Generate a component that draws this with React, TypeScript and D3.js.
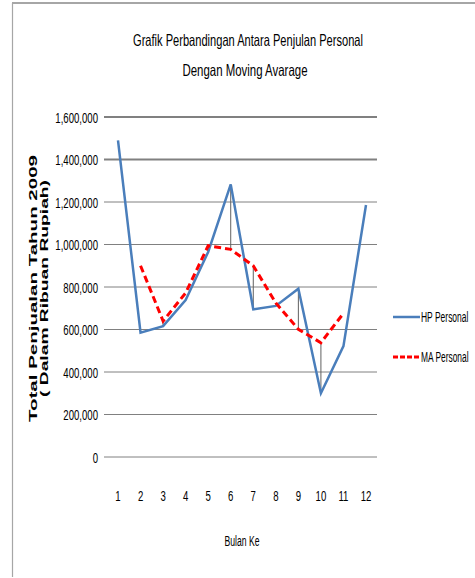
import React from "react";
import * as d3 from "d3";

const months = [1, 2, 3, 4, 5, 6, 7, 8, 9, 10, 11, 12];
const hpPersonal = [1490000, 585000, 616000, 739000, 965000, 1283000, 695000, 711000, 792000, 300000, 522000, 1186000];
const maMonths = [2, 3, 4, 5, 6, 7, 8, 9, 10, 11];
const maPersonal = [900000, 640000, 772000, 994000, 977000, 900000, 725000, 601000, 538000, 676000];
const dropMonths = [3, 5, 6, 7, 8, 9, 10];
const yTicks = [0, 200000, 400000, 600000, 800000, 1000000, 1200000, 1400000, 1600000];
const titleLines = ["Grafik Perbandingan Antara Penjulan Personal", "Dengan Moving Avarage"];
const yTitleLines = ["Total Penjualan Tahun 2009", "( Dalam Ribuan Rupiah)"];
const xTitle = "Bulan Ke";
const legendLabels = ["HP Personal", "MA Personal"];

const FONT = "'Liberation Sans', Arial, sans-serif";
const SX = 0.64;

function Narrow({
  x,
  y,
  anchor = "start",
  size = 15,
  sx = SX,
  children,
}: {
  x: number;
  y: number;
  anchor?: "start" | "middle" | "end";
  size?: number;
  sx?: number;
  children: React.ReactNode;
}) {
  return (
    <g transform={`translate(${x},${y}) scale(${sx},1)`}>
      <text x={0} y={0} textAnchor={anchor} fontFamily={FONT} fontSize={size} fill="#000">
        {children}
      </text>
    </g>
  );
}

function Fit({
  x,
  y,
  len,
  anchor = "start",
  size = 15,
  children,
}: {
  x: number;
  y: number;
  len: number;
  anchor?: "start" | "middle" | "end";
  size?: number;
  children: React.ReactNode;
}) {
  return (
    <text x={x} y={y} textAnchor={anchor} fontFamily={FONT} fontSize={size} fill="#000" textLength={len} lengthAdjust="spacingAndGlyphs">
      {children}
    </text>
  );
}

export default function App() {
  const x = d3.scalePoint<number>().domain(months).range([118, 366]);
  const y = d3.scaleLinear().domain([0, 1600000]).range([457, 117]);
  const fmt = d3.format(",");
  const line = d3
    .line<[number, number]>()
    .x((d) => x(d[0]) as number)
    .y((d) => y(d[1]));
  const hpData: [number, number][] = months.map((m, i) => [m, hpPersonal[i]]);
  const maData: [number, number][] = maMonths.map((m, i) => [m, maPersonal[i]]);
  const blue = "#4a7ebb";
  const red = "#ff0000";

  return (
    <svg
      width={475}
      height={578}
      style={{ position: "absolute", left: 0, top: 0, background: "#fff" }}
    >
      <rect x={0} y={0} width={475} height={578} fill="#fff" />
      {/* frame */}
      <line x1={12.5} y1={3} x2={12.5} y2={577} stroke="#a6a6a6" strokeWidth={1.2} />
      <line x1={12} y1={3} x2={475} y2={3} stroke="#a6a6a6" strokeWidth={1.8} />

      {/* title */}
      <Fit x={248} y={46} len={230} anchor="middle" size={16.5}>
        {titleLines[0]}
      </Fit>
      <Fit x={245} y={76} len={125} anchor="middle" size={16.5}>
        {titleLines[1]}
      </Fit>

      {/* gridlines & y labels */}
      {yTicks.map((v) => (
        <g key={v}>
          <line
            x1={104}
            x2={377}
            y1={y(v)}
            y2={y(v)}
            stroke="#808080"
            strokeWidth={v >= 1400000 ? 1.8 : 1}
          />
          <Narrow x={98} y={y(v) + 5.5} anchor="end">
            {fmt(v)}
          </Narrow>
        </g>
      ))}

      {/* y title */}
      <g transform="translate(37,288.5) rotate(-90)">
        <text x={0} y={0} textAnchor="middle" fontFamily={FONT} fontWeight="bold" fontSize={11} textLength={267} lengthAdjust="spacingAndGlyphs">
          {yTitleLines[0]}
        </text>
      </g>
      <g transform="translate(48,288.5) rotate(-90)">
        <text x={0} y={0} textAnchor="middle" fontFamily={FONT} fontWeight="bold" fontSize={11} textLength={217} lengthAdjust="spacingAndGlyphs">
          {yTitleLines[1]}
        </text>
      </g>

      {/* x labels */}
      {months.map((m) => (
        <Narrow key={m} x={x(m) as number} y={501} anchor="middle">
          {m}
        </Narrow>
      ))}
      <Narrow x={242} y={546} anchor="middle" sx={0.575}>
        {xTitle}
      </Narrow>

      {/* drop lines between series */}
      {dropMonths.map((m) => {
        const hp = hpPersonal[months.indexOf(m)];
        const ma = maPersonal[maMonths.indexOf(m)];
        return (
          <line key={m} x1={x(m)} x2={x(m)} y1={y(hp)} y2={y(ma)} stroke="#606060" strokeWidth={1} />
        );
      })}

      {/* series */}
      <path d={line(hpData) || ""} fill="none" stroke={blue} strokeWidth={2.5} strokeLinejoin="miter" />
      <path d={line(maData) || ""} fill="none" stroke={red} strokeWidth={3} strokeDasharray="7,4" />

      {/* legend */}
      <line x1={393} x2={420} y1={317} y2={317} stroke={blue} strokeWidth={2.5} />
      <Narrow x={421} y={322} sx={0.565}>
        {legendLabels[0]}
      </Narrow>
      <line x1={393} x2={420} y1={357} y2={357} stroke={red} strokeWidth={3} strokeDasharray="5,2" />
      <Narrow x={421} y={362} sx={0.56}>
        {legendLabels[1]}
      </Narrow>
    </svg>
  );
}
